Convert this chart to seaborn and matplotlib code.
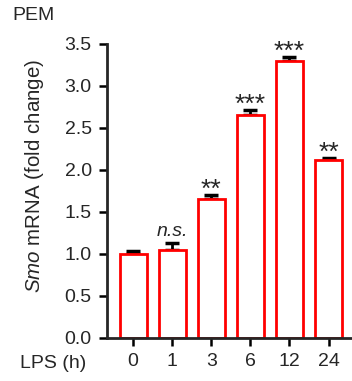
import numpy as np
import pandas as pd
import matplotlib
matplotlib.use("Agg")
import matplotlib.pyplot as plt
import seaborn as sns

sns.set_style("ticks")
plt.rcParams["font.family"] = ["Liberation Sans", "DejaVu Sans"]
plt.rcParams["mathtext.fontset"] = "custom"
plt.rcParams["mathtext.it"] = "Liberation Sans:italic"
plt.rcParams["mathtext.rm"] = "Liberation Sans"

# data
timepoints = ["0", "1", "3", "6", "12", "24"]
fold_change = [1.00, 1.05, 1.65, 2.65, 3.30, 2.12]
sem = [0.04, 0.08, 0.05, 0.06, 0.04, 0.02]
signif = ["", "n.s.", "**", "***", "***", "**"]

df = pd.DataFrame({"time": timepoints, "fc": fold_change})

fig = plt.figure(figsize=(3.52, 3.81), dpi=100)
ax = fig.add_axes([0.304, 0.113, 0.696, 0.772])

sns.barplot(data=df, x="time", y="fc", order=timepoints, fill=False,
            color="red", linewidth=2, width=0.7, errorbar=None, ax=ax)
for p in ax.patches:
    p.set_edgecolor("#ff0000")
    p.set_facecolor("white")
    p.set_zorder(2)

x = np.arange(len(timepoints))
ax.errorbar(x, fold_change, yerr=[np.zeros(len(sem)), sem], fmt="none",
            ecolor="black", elinewidth=2, capsize=5, capthick=2.5, zorder=1)

for xi, y, e, s in zip(x, fold_change, sem, signif):
    if not s:
        continue
    if s == "n.s.":
        ax.text(xi, y + e + 0.03, s, ha="center", va="bottom", fontsize=14, style="italic")
    else:
        ax.text(xi, y + e - 0.08, s, ha="center", va="bottom", fontsize=19)

ax.set_xlim(-0.67, 5.6)
ax.set_ylim(0, 3.5)
ax.set_yticks(np.arange(0, 3.51, 0.5))
ax.set_yticklabels([f"{v:.1f}" for v in np.arange(0, 3.51, 0.5)])
ax.set_xlabel("")
ax.set_ylabel(r"$\it{Smo}$ mRNA (fold change)", fontsize=14.8)
ax.yaxis.set_label_coords(-0.25, 0.551)
ax.tick_params(axis="both", labelsize=14, width=1.8, length=6, color="black", pad=5)
for sp in ["left", "bottom"]:
    ax.spines[sp].set_linewidth(2)
sns.despine(ax=ax)

fig.text(0.035, 0.96, "PEM", fontsize=14, va="center", ha="left")
fig.text(0.058, 0.047, "LPS (h)", fontsize=14, va="center", ha="left")

fig.savefig("out.png", dpi=100)
